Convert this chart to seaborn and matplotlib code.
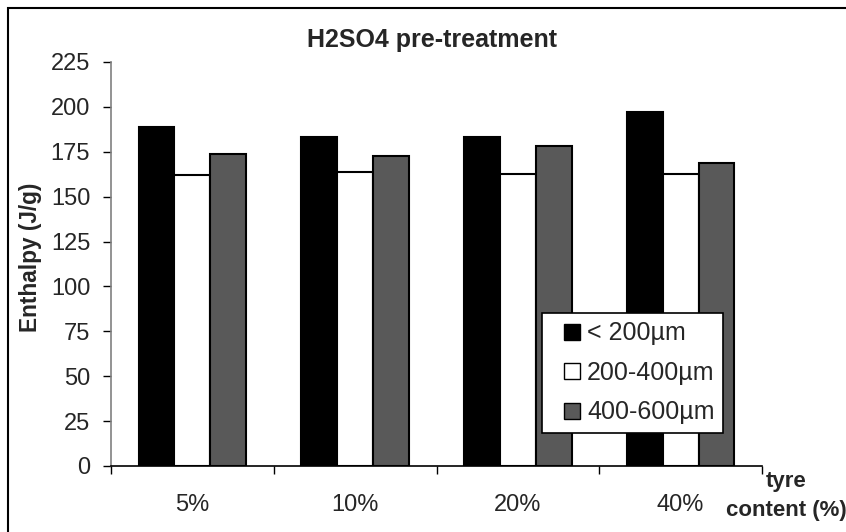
import matplotlib
matplotlib.use("Agg")
import matplotlib.pyplot as plt
from matplotlib.patches import Rectangle
from matplotlib.lines import Line2D
import seaborn as sns
import pandas as pd

sns.set_style("white")
plt.rcParams["font.family"] = ["Liberation Sans", "DejaVu Sans"]

# Enthalpy after H2SO4 pre-treatment, per tyre content and particle size
tyre_content = ["5%", "10%", "20%", "40%"]
size_classes = ["< 200µm", "200-400µm", "400-600µm"]
enthalpy_lt200 = [189, 183, 183, 197]
enthalpy_200_400 = [162, 163.5, 162.5, 162.5]
enthalpy_400_600 = [173.5, 172.5, 178, 169]
bar_colors = ["#000000", "#ffffff", "#595959"]

rows = []
for size, vals in zip(size_classes, [enthalpy_lt200, enthalpy_200_400, enthalpy_400_600]):
    for cat, v in zip(tyre_content, vals):
        rows.append({"content": cat, "size": size, "enthalpy": v})
df = pd.DataFrame(rows)

W, H, DPI = 846, 532, 100
fig = plt.figure(figsize=(W / DPI, H / DPI), dpi=DPI)
ax = fig.add_axes([111 / W, 1 - 466 / H, (762 - 111) / W, (466 - 62) / H])

sns.barplot(data=df, x="content", y="enthalpy", hue="size",
            order=tyre_content, hue_order=size_classes, palette=bar_colors,
            width=0.66, gap=0, edgecolor="black", linewidth=1.5,
            errorbar=None, legend=False, ax=ax)

ax.set_xlim(-0.5, 3.5)
ax.set_ylim(0, 225)
ax.set_yticks(range(0, 226, 25))
ax.tick_params(axis="y", labelsize=17, length=6, width=1, direction="out",
               pad=9, left=True, color="black")

# category boundaries carry the tick marks, labels sit between them
ax.set_xticks([-0.5, 0.5, 1.5, 2.5, 3.5])
ax.set_xticklabels([])
ax.set_xticks(range(len(tyre_content)), minor=True)
ax.set_xticklabels(tyre_content, minor=True)
ax.tick_params(axis="x", which="major", length=6, width=1, direction="out",
               bottom=True, color="black")
ax.tick_params(axis="x", which="minor", length=0, labelsize=17, pad=20)
ax.set_xlabel("")
ax.set_ylabel("")

for side in ["top", "right"]:
    ax.spines[side].set_visible(False)
ax.spines["left"].set_color("#808080")
ax.spines["left"].set_linewidth(1.2)
ax.spines["bottom"].set_color("black")
ax.spines["bottom"].set_linewidth(1.2)

# square swatches for the legend
handles = [Line2D([], [], marker="s", linestyle="", markersize=11.5,
                  markerfacecolor=c, markeredgecolor="black", markeredgewidth=1)
           for c in bar_colors]
leg = ax.legend(handles, size_classes, loc="upper left",
                bbox_to_anchor=(541.7 / W, 1 - 312.7 / H),
                bbox_transform=fig.transFigure,
                fontsize=18, frameon=True, fancybox=False, shadow=False,
                edgecolor="black", framealpha=1, handlelength=1.72,
                handletextpad=-0.26, labelspacing=0.62,
                borderpad=0.35, borderaxespad=0)
leg.get_frame().set_linewidth(1.2)

fig.text(432 / W, 1 - 40 / H, "H2SO4 pre-treatment", ha="center", va="center",
         fontsize=18, fontweight="bold")
fig.text(30 / W, 1 - 257 / H, "Enthalpy (J/g)", ha="center", va="center",
         rotation=90, fontsize=16.3, fontweight="bold")
fig.text(786 / W, 1 - 496 / H, "tyre\ncontent (%)", ha="center", va="center",
         fontsize=16, fontweight="bold", linespacing=1.45)

fig.patches.append(Rectangle((8 / W, -0.1), 1.2, 1 - 8 / H + 0.1,
                             transform=fig.transFigure, fill=False,
                             edgecolor="black", linewidth=1.5))

fig.savefig("out.png", dpi=DPI)
